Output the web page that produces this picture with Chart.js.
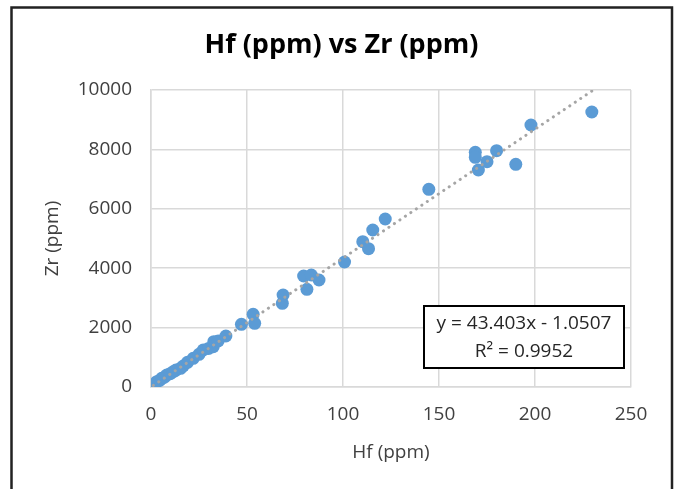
<!DOCTYPE html>
<html>
<head>
<meta charset="utf-8">
<script src="https://cdn.jsdelivr.net/npm/chart.js@4/dist/chart.umd.min.js"></script>
<style>
  html, body { margin: 0; padding: 0; background: #ffffff; }
  #wrap { position: relative; width: 675px; height: 489px; }
</style>
</head>
<body>
<div id="wrap"><canvas id="c" width="675" height="489"></canvas></div>
<script>
// ---- data ----
const hfValues = [1.2, 2.0, 3.0, 4.5, 5.6, 7.0, 8.2, 10.0, 11.6, 13.0, 15.4, 16.8, 19.0, 22.0, 25.0, 27.2, 30.0, 32.4, 32.7, 35.0, 39.0, 47.1, 53.2, 54.0, 68.4, 68.8, 79.5, 81.2, 83.5, 87.5, 100.8, 110.3, 113.3, 115.5, 122.0, 144.7, 168.9, 168.9, 170.5, 175.0, 180.0, 190.0, 197.9, 229.6];
const zrValues = [67, 100, 178, 220, 293, 330, 404, 450, 515, 570, 630, 707, 830, 966, 1100, 1246, 1300, 1357, 1525, 1550, 1717, 2111, 2448, 2144, 2818, 3098, 3737, 3289, 3771, 3603, 4209, 4892, 4657, 5286, 5657, 6656, 7902, 7734, 7306, 7586, 7956, 7498, 8822, 9259];
const xTicks = [0, 50, 100, 150, 200, 250];
const yTicks = [0, 2000, 4000, 6000, 8000, 10000];
const trendSlope = 43.403;
const trendIntercept = -1.0507;
const equationLines = ['y = 43.403x - 1.0507', 'R² = 0.9952'];
const chartTitle = 'Hf (ppm) vs Zr (ppm)';
const xTitle = 'Hf (ppm)';
const yTitle = 'Zr (ppm)';

const points = hfValues.map((x, i) => ({ x: x, y: zrValues[i] }));
const xMin = Math.min(...hfValues), xMax = Math.max(...hfValues);
const trendPoints = [xMin, xMax].map(x => ({ x: x, y: trendSlope * x + trendIntercept }));

const FONT = "'Open Sans', 'Liberation Sans', sans-serif";
const GRID = '#d9d9d9';
const TEXT = '#404040';

const framePlugin = {
  id: 'frame',
  afterDraw(chart) {
    const ctx = chart.ctx;
    const a = chart.chartArea;
    ctx.save();
    // outer frame (open at bottom, as in reference)
    ctx.strokeStyle = '#222222';
    ctx.lineWidth = 2.5;
    ctx.beginPath();
    ctx.moveTo(11.5, 489);
    ctx.lineTo(11.5, 7.5);
    ctx.lineTo(672, 7.5);
    ctx.lineTo(672, 489);
    ctx.stroke();
    // equation box
    const bw = 200, bh = 62;
    const bx = a.right - 7 - bw, by = a.bottom - 19 - bh;
    ctx.fillStyle = '#ffffff';
    ctx.fillRect(bx, by, bw, bh);
    ctx.strokeStyle = '#000000';
    ctx.lineWidth = 2;
    ctx.strokeRect(bx, by, bw, bh);
    ctx.fillStyle = '#262626';
    ctx.font = "19px " + FONT;
    ctx.textAlign = 'center';
    ctx.textBaseline = 'middle';
    ctx.fillText(equationLines[0], bx + bw / 2, by + 18);
    ctx.fillText(equationLines[1], bx + bw / 2, by + 46);
    ctx.restore();
  }
};

new Chart(document.getElementById('c'), {
  type: 'scatter',
  data: {
    datasets: [
      {
        type: 'line',
        label: 'Linear trend',
        data: trendPoints,
        borderColor: '#a5a5a5',
        borderWidth: 3,
        borderDash: [0.1, 6.5],
        borderCapStyle: 'round',
        pointRadius: 0,
        fill: false,
        tension: 0
      },
      {
        label: 'Zr',
        data: points,
        backgroundColor: '#5b9bd5',
        borderColor: '#5b9bd5',
        borderWidth: 0,
        pointRadius: 6.5,
        pointHoverRadius: 6.5
      }
    ]
  },
  options: {
    responsive: false,
    animation: false,
    devicePixelRatio: 1,
    layout: { padding: { left: 11, right: 3, top: 0, bottom: 0 } },
    plugins: {
      legend: { display: false },
      tooltip: { enabled: false },
      title: {
        display: true,
        text: chartTitle,
        color: '#000000',
        font: { family: FONT, size: 27, weight: 'bold' },
        padding: { top: 28.8, bottom: 28.8 }
      }
    },
    scales: {
      x: {
        type: 'linear',
        min: 0, max: 250,
        afterBuildTicks(scale) { scale.ticks = xTicks.map(v => ({ value: v })); },
        afterFit(scale) { scale.height = 102; },
        grid: { color: GRID, lineWidth: 1.5, drawTicks: false },
        border: { color: GRID, width: 1.5 },
        ticks: { color: TEXT, font: { family: FONT, size: 19 }, padding: 16 },
        title: { display: true, text: xTitle, color: TEXT, font: { family: FONT, size: 19 }, padding: { top: 0, bottom: 25 } }
      },
      y: {
        type: 'linear',
        min: 0, max: 10000,
        afterBuildTicks(scale) { scale.ticks = yTicks.map(v => ({ value: v })); },
        afterFit(scale) { scale.width = 140; },
        grid: { color: GRID, lineWidth: 1.5, drawTicks: false },
        border: { color: GRID, width: 1.5 },
        ticks: { color: TEXT, font: { family: FONT, size: 19 }, padding: 19, callback: v => String(v) },
        title: { display: true, text: yTitle, color: TEXT, font: { family: FONT, size: 19 }, padding: { top: 30, bottom: 0 } }
      },
      yRight: {
        axis: 'y',
        type: 'linear',
        position: 'right',
        min: 0, max: 10000,
        display: true,
        afterFit(scale) { scale.width = 41; },
        grid: { display: false, drawOnChartArea: false },
        border: { display: false },
        ticks: { display: false }
      }
    }
  },
  plugins: [framePlugin]
});
</script>
</body>
</html>
